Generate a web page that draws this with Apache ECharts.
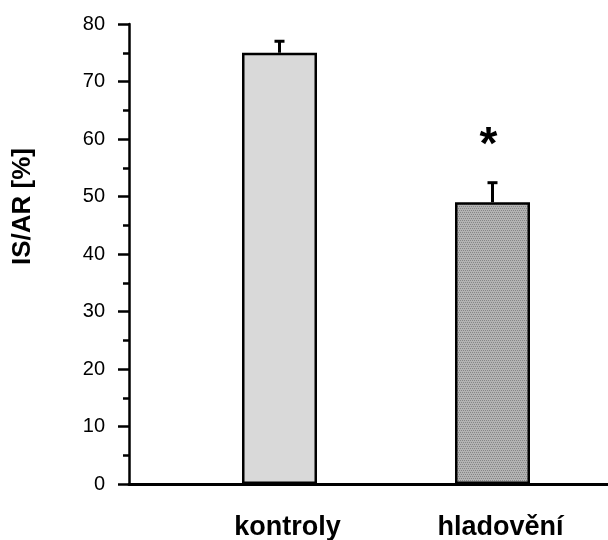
<!DOCTYPE html>
<html>
<head>
<meta charset="utf-8">
<script src="https://cdn.jsdelivr.net/npm/echarts@6/dist/echarts.min.js"></script>
<style>
  html, body { margin: 0; padding: 0; background: #fff; }
  #chart { width: 608px; height: 540px; }
</style>
</head>
<body>
<div id="chart"></div>
<script>
// Infarct size relative to area at risk
const categories = ['kontroly', 'hladovění'];
const meanValues = [75, 49];
const errorUpper = [77, 52.4];
const significance = ['', '*'];
const yMin = 0, yMax = 80, yStep = 10;

// fine stippled fill for the second group
function stipple() {
  const c = document.createElement('canvas');
  c.width = 4; c.height = 4;
  const g = c.getContext('2d');
  g.fillStyle = '#b3b3b3'; g.fillRect(0, 0, 4, 4);
  g.fillStyle = '#868686';
  [[0, 0], [2, 0], [1, 2], [3, 2]].forEach(p => g.fillRect(p[0], p[1], 1, 1));
  return c;
}
const fills = ['#d9d9d9', { image: stipple(), repeat: 'repeat' }];

const font = 'Liberation Sans, Arial, sans-serif';
const chart = echarts.init(document.getElementById('chart'), null, { renderer: 'canvas' });

chart.setOption({
  animation: false,
  backgroundColor: '#fff',
  grid: [
    { left: 129, right: 0, top: 24, bottom: 56, containLabel: false, outerBoundsMode: 'none' },
    { left: 173, right: 9, top: 24, bottom: 56, containLabel: false, outerBoundsMode: 'none' }
  ],
  xAxis: [
    {
      gridIndex: 0, type: 'value', min: 0, max: 1, z: 10,
      axisLine: { show: true, lineStyle: { color: '#000', width: 3 } },
      axisTick: { show: false }, axisLabel: { show: false }, splitLine: { show: false }
    },
    {
      gridIndex: 1, type: 'category', data: categories,
      axisLine: { show: false }, axisTick: { show: false }, splitLine: { show: false },
      axisLabel: {
        color: '#000', fontFamily: font, fontWeight: 'bold', fontSize: 27,
        margin: 30, padding: [0, 0, 0, 16]
      }
    }
  ],
  yAxis: [
    {
      gridIndex: 0, type: 'value', min: yMin, max: yMax, interval: yStep, z: 10,
      name: 'IS/AR [%]', nameLocation: 'middle', nameGap: 93, nameRotate: 90,
      nameTextStyle: {
        color: '#000', fontFamily: font, fontWeight: 'bold', fontSize: 26,
        padding: [0, 0, 0, 95]
      },
      axisLine: { show: true, lineStyle: { color: '#000', width: 2.5 } },
      axisTick: { show: true, inside: false, length: 11, lineStyle: { color: '#000', width: 2.5 } },
      minorTick: { show: true, splitNumber: 2, length: 6, lineStyle: { color: '#000', width: 2.5 } },
      axisLabel: { color: '#000', fontFamily: font, fontSize: 20, margin: 24 },
      splitLine: { show: false }
    },
    { gridIndex: 1, type: 'value', min: yMin, max: yMax, show: false }
  ],
  series: [
    {
      type: 'bar', xAxisIndex: 1, yAxisIndex: 1, barWidth: 75,
      data: meanValues.map((v, i) => ({
        value: v,
        itemStyle: { color: fills[i], borderColor: '#000', borderWidth: 2.5 }
      })),
      z: 2
    },
    {
      type: 'custom', xAxisIndex: 1, yAxisIndex: 1, z: 3,
      data: categories.map((c, i) => [i, meanValues[i], errorUpper[i]]),
      renderItem: function (params, api) {
        const base = api.coord([api.value(0), api.value(1)]);
        const top = api.coord([api.value(0), api.value(2)]);
        const i = params.dataIndex;
        const line = { stroke: '#000', lineWidth: 3 };
        const children = [
          { type: 'line', shape: { x1: top[0], y1: base[1], x2: top[0], y2: top[1] }, style: line },
          { type: 'line', shape: { x1: top[0] - 5, y1: top[1], x2: top[0] + 5, y2: top[1] }, style: line }
        ];
        if (significance[i]) {
          children.push({
            type: 'text',
            style: {
              text: significance[i], x: top[0] - 4, y: top[1] - 36,
              align: 'center', verticalAlign: 'middle',
              font: 'bold 46px ' + font, fill: '#000'
            }
          });
        }
        return { type: 'group', children: children };
      }
    }
  ]
});
</script>
</body>
</html>
